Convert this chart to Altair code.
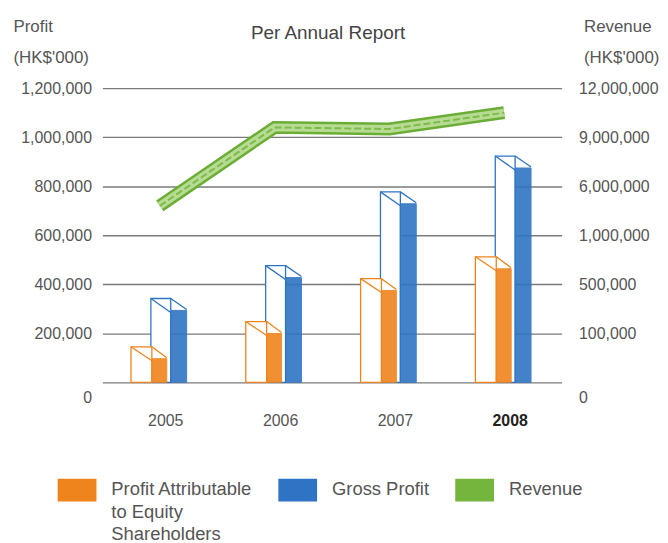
import altair as alt
import pandas as pd

years = ["2005", "2006", "2007", "2008"]
profit_attr = [145000, 248000, 423000, 512000]
gross_profit = [342000, 476000, 777000, 923000]
revenue = [4000000, 9600000, 9500000, 10500000]

left_ticks = [0, 200000, 400000, 600000, 800000, 1000000, 1200000]
right_ticks = [0, 100000, 500000, 1000000, 6000000, 9000000, 12000000]

series_names = ["Profit Attributable to Equity Shareholders", "Gross Profit", "Revenue"]
colors = ["#f0841c", "#2f74c4", "#74b53e"]

FONT = "Liberation Sans"
GREY = "#555555"
W, H = 462, 296

bars_df = pd.DataFrame({
    "year": years * 2,
    "series": [series_names[0]] * 4 + [series_names[1]] * 4,
    "value": profit_attr + gross_profit,
})
rev_df = pd.DataFrame({"year": years, "revenue": revenue, "series": series_names[2]})

x_enc = alt.X(
    "year:N",
    title=None,
    scale=alt.Scale(domain=years, paddingInner=0, paddingOuter=0),
    axis=alt.Axis(
        domain=False, ticks=False, labelAngle=0, labelPadding=30, labelOffset=6,
        labelFont=FONT, labelFontSize=16,
        labelColor={"condition": {"test": "datum.value == '2008'", "value": "#222222"}, "value": GREY},
        labelFontWeight={"condition": {"test": "datum.value == '2008'", "value": "bold"}, "value": "normal"},
    ),
)

zero_offset = {"condition": {"test": "datum.value == 0", "value": 15}, "value": 0}

y_left = alt.Y(
    "value:Q",
    scale=alt.Scale(domain=[0, 1200000], nice=False),
    axis=alt.Axis(
        values=left_ticks, format=",d", grid=True, gridColor="#7a7a7a", gridWidth=1.4,
        domain=False, ticks=False, labelPadding=11, labelFont=FONT, labelFontSize=16,
        labelColor=GREY, labelOffset=zero_offset,
        title=["Profit", "(HK$'000)"], titleAngle=0, titleAlign="left", titleBaseline="alphabetic",
        titleX=-90, titleY=-57, titleFont=FONT, titleFontSize=17, titleFontWeight="normal",
        titleColor=GREY, titleLineHeight=31,
    ),
)

fill_scale = alt.Scale(domain=series_names, range=colors)
legend = alt.Legend(
    orient="none", legendX=-45, legendY=375, direction="horizontal", title=None,
    symbolType="M-1,-0.08H1V1.1H-1Z", symbolSize=1521, symbolStrokeWidth=0, symbolOpacity=1,
    labelFont=FONT, labelFontSize=18.5, labelColor=GREY, labelLimit=300, columnPadding=26,
    labelOffset=15, padding=0, columns=3, labelBaseline="top",
    labelExpr="datum.label == 'Profit Attributable to Equity Shareholders' ? ['Profit Attributable', 'to Equity', 'Shareholders'] : [datum.label, ' ', ' ']",
)


def box(series, color, fl, fw, sw):
    base = alt.Chart(bars_df).transform_filter(alt.datum.series == series)
    front = base.mark_bar(width=fw, xOffset=fl + fw / 2, fill="white", stroke=color, strokeWidth=1.3).encode(
        x=x_enc, y=y_left, y2=alt.datum(0)
    )
    side = base.mark_bar(width=sw, xOffset=fl + fw + sw / 2, yOffset=12, y2Offset=0, stroke=color,
                         strokeWidth=1, opacity=0.9).encode(
        x=x_enc, y=y_left, y2=alt.datum(0), fill=alt.Fill("series:N", scale=fill_scale, legend=legend)
    )
    edge1 = base.mark_rule(xOffset=fl, x2Offset=fl + fw, y2Offset=14, color=color, strokeWidth=1.3).encode(
        x=x_enc, x2="year:N", y=y_left, y2="value:Q"
    )
    edge2 = base.mark_rule(xOffset=fl + fw, x2Offset=fl + fw + sw, y2Offset=11, color=color, strokeWidth=1.3).encode(
        x=x_enc, x2="year:N", y=y_left, y2="value:Q"
    )
    return [front, side, edge1, edge2]


bars = alt.layer(*(box(series_names[1], colors[1], -9, 20, 16) + box(series_names[0], colors[0], -29, 21, 15)))

y_right = alt.Y(
    "revenue:Q",
    scale=alt.Scale(domain=right_ticks, range=[H - H * i / 6 for i in range(7)], nice=False, zero=False),
    axis=alt.Axis(
        orient="right", values=right_ticks, format=",d", grid=False, domain=False, ticks=False,
        labelPadding=17, labelFont=FONT, labelFontSize=16, labelColor=GREY, labelOffset=zero_offset,
        title=["Revenue", "(HK$'000)"], titleAngle=0, titleAlign="left", titleBaseline="alphabetic",
        titleX=22, titleY=-57, titleFont=FONT, titleFontSize=17, titleFontWeight="normal",
        titleColor=GREY, titleLineHeight=31,
    ),
)
rev_base = alt.Chart(rev_df)
line_outer = rev_base.mark_line(strokeWidth=13, color="#6aae35", strokeCap="butt", strokeJoin="miter").encode(x=x_enc, y=y_right)
line_inner = rev_base.mark_line(strokeWidth=8, color="#b7db92", strokeCap="butt", strokeJoin="miter").encode(x=x_enc, y=y_right)
line_mid = rev_base.mark_line(strokeWidth=2, color="#7cbc48", strokeCap="butt", strokeDash=[7, 3]).encode(x=x_enc, y=y_right)
lines = alt.layer(line_outer, line_inner, line_mid)

chart = (
    alt.layer(bars, lines)
    .resolve_scale(y="independent")
    .properties(
        width=W, height=H,
        title=alt.Title("Per Annual Report", font=FONT, fontSize=19, fontWeight="normal", color="#444444",
                        anchor="middle", dx=-4, dy=30),
        padding={"left": 5, "top": 8, "right": 0, "bottom": 0},
    )
    .configure(view=alt.ViewConfig(stroke=None), style={"guide-label": {"lineHeight": 22.5}})
)

chart.save("out.html", embed_options={"renderer": "svg", "actions": False})
